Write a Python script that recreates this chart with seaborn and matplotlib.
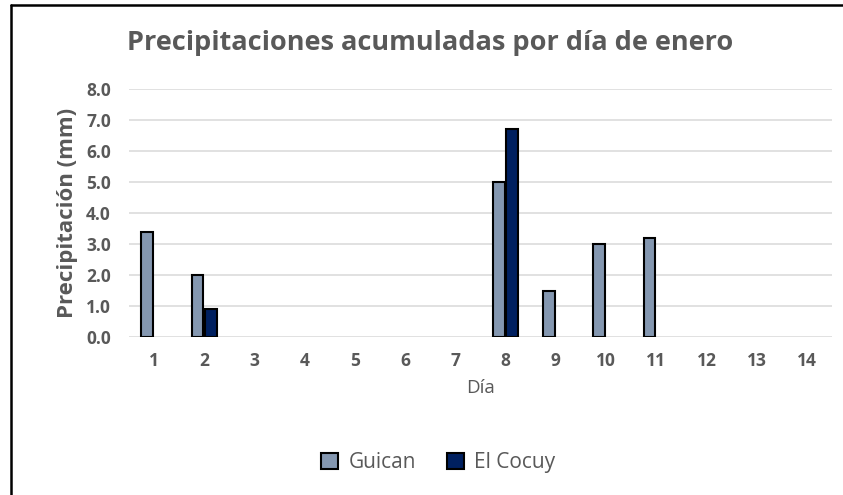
import numpy as np
import pandas as pd
import matplotlib
matplotlib.use("Agg")
import matplotlib.pyplot as plt
import seaborn as sns
from matplotlib.lines import Line2D
from matplotlib.patches import Patch

# datos
dias = list(range(1, 15))
guican = [3.4, 2.0, 0, 0, 0, 0, 0, 5.0, 1.5, 3.0, 3.2, 0, 0, 0]
el_cocuy = [0, 0.9, 0, 0, 0, 0, 0, 6.7, 0, 0, 0, 0, 0, 0]
estaciones = ["Guican", "El Cocuy"]
colores = ["#8497B0", "#002060"]

df = pd.DataFrame({
    "Día": dias * 2,
    "Precipitación": guican + el_cocuy,
    "Estación": ["Guican"] * len(dias) + ["El Cocuy"] * len(dias),
})

sns.set_theme(style="white")
plt.rcParams['font.family'] = ['Open Sans', 'DejaVu Sans']
gris = "#595959"

fig = plt.figure(figsize=(8.43, 4.95), dpi=100)
ax = fig.add_axes([0.153, 0.319, 0.834, 0.501])

sns.barplot(data=df, x="Día", y="Precipitación", hue="Estación",
            hue_order=estaciones, palette=colores, width=0.54, gap=0.12,
            edgecolor="black", linewidth=1.5, saturation=1, ax=ax, legend=False)

# Excel no dibuja las barras con valor 0
for p in ax.patches:
    if p.get_height() == 0:
        p.set_visible(False)

ax.set_ylim(0, 8)
ax.set_yticks(np.arange(0, 8.1, 1.0))
ax.set_yticklabels([f"{v:.1f}" for v in np.arange(0, 8.1, 1.0)])
ax.yaxis.grid(True, color="#D9D9D9", linewidth=1.1)
ax.set_axisbelow(True)
for s in ax.spines.values():
    s.set_visible(False)
ax.tick_params(axis="both", length=0, labelsize=12.5, labelcolor=gris)
ax.tick_params(axis="y", pad=13)
ax.tick_params(axis="x", pad=11)
for lbl in ax.get_xticklabels() + ax.get_yticklabels():
    lbl.set_fontweight("bold")

ax.set_ylabel("Precipitación (mm)", fontsize=16, fontweight="bold", color=gris, labelpad=6)
ax.set_xlabel("Día", fontsize=13.5, color=gris, labelpad=6)

fig.text(0.51, 0.913, "Precipitaciones acumuladas por día de enero",
         ha="center", va="center", fontsize=19.5, fontweight="bold", color=gris)

handles = [Patch(facecolor=c, edgecolor="black", linewidth=1.5) for c in colores]
fig.legend(handles, estaciones, loc="center", bbox_to_anchor=(0.52, 0.065), ncol=2,
           frameon=False, fontsize=15, labelcolor=gris, handlelength=0.8,
           handleheight=0.8, handletextpad=0.5, columnspacing=1.5)

# borde del recorte
fig.add_artist(Line2D([0.013, 0.013], [0, 0.99], transform=fig.transFigure, color="black", linewidth=1.8))
fig.add_artist(Line2D([0.013, 1.0], [0.99, 0.99], transform=fig.transFigure, color="black", linewidth=1.8))

fig.savefig("out.png", dpi=100)
